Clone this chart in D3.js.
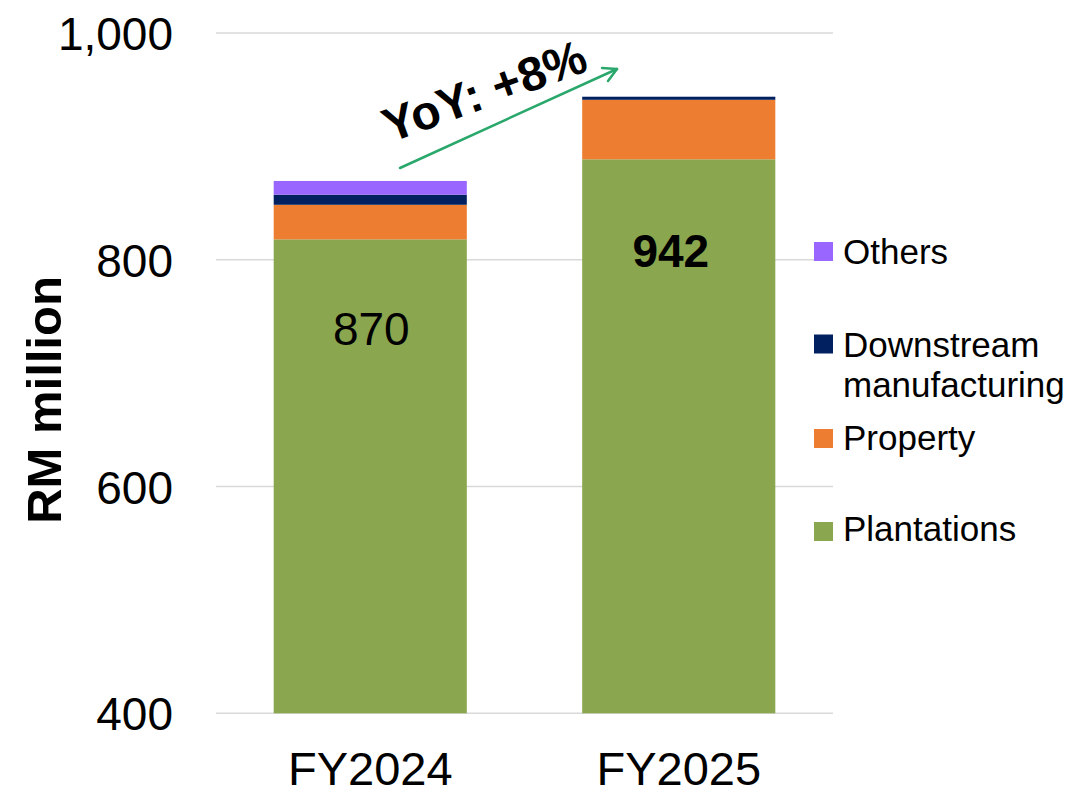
<!DOCTYPE html>
<html>
<head>
<meta charset="utf-8">
<script src="https://cdn.jsdelivr.net/npm/d3@7"></script>
<style>
  html, body { margin: 0; padding: 0; background: #fff; }
  svg { display: block; font-family: "Liberation Sans", Arial, Helvetica, sans-serif; }
</style>
</head>
<body>
<svg id="chart" width="1082" height="796"></svg>
<script>
// ---- data ----
const categories = ["FY2024", "FY2025"];
const plantations = [818, 888.6];
const property = [30.5, 52.5];
const downstream = [8.9, 2.7];
const others = [12.1, 0];
const totalLabels = ["870", "942"];
const yTicks = [400, 600, 800, 1000];
const seriesNames = ["Plantations", "Property", "Downstream manufacturing", "Others"];
const seriesColors = ["#8aa64e", "#ed7d31", "#002060", "#9966ff"];
const yoyText = "YoY: +8%";

// ---- layout ----
const svg = d3.select("#chart");
const plot = { left: 216, right: 833, top: 33, bottom: 713.3 };

const x = d3.scaleBand()
  .domain(categories)
  .range([plot.left, plot.right])
  .paddingInner(0.374)
  .paddingOuter(0.187);

const y = d3.scaleLinear()
  .domain([400, 1000])
  .range([plot.bottom, plot.top]);

// gridlines
svg.append("g")
  .selectAll("line")
  .data(yTicks)
  .join("line")
  .attr("x1", plot.left)
  .attr("x2", plot.right)
  .attr("y1", d => y(d))
  .attr("y2", d => y(d))
  .attr("stroke", "#d9d9d9")
  .attr("stroke-width", 1.5);

// y axis labels
const yAxis = d3.axisLeft(y)
  .tickValues(yTicks)
  .tickFormat(d3.format(","))
  .tickSize(0)
  .tickPadding(0);
const yg = svg.append("g")
  .attr("transform", `translate(173,0)`)
  .call(yAxis);
yg.select(".domain").remove();
yg.selectAll("text")
  .attr("font-size", 46)
  .attr("font-family", "'Liberation Sans', Arial, sans-serif")
  .attr("fill", "#000")
  .attr("dy", "0.36em");

// x axis labels
const xAxis = d3.axisBottom(x).tickSize(0).tickPadding(0);
const xg = svg.append("g")
  .call(xAxis);
xg.select(".domain").remove();
xg.selectAll("text")
  .attr("font-size", 47)
  .attr("font-family", "'Liberation Sans', Arial, sans-serif")
  .attr("fill", "#000")
  .attr("y", 785)
  .attr("dy", 0);

// y title
svg.append("text")
  .attr("transform", "translate(61,400) rotate(-90)")
  .attr("text-anchor", "middle")
  .attr("font-size", 49)
  .attr("font-weight", "bold")
  .attr("fill", "#000")
  .text("RM million");

// stacked bars
const rows = categories.map((c, i) => ({
  cat: c,
  Plantations: plantations[i],
  Property: property[i],
  "Downstream manufacturing": downstream[i],
  Others: others[i]
}));
const stacked = d3.stack().keys(seriesNames)(rows);
svg.append("g")
  .selectAll("g")
  .data(stacked)
  .join("g")
  .attr("fill", (d, i) => seriesColors[i])
  .selectAll("rect")
  .data(d => d)
  .join("rect")
  .attr("x", d => x(d.data.cat))
  .attr("width", x.bandwidth())
  .attr("y", d => y(d[1]))
  .attr("height", d => Math.max(0, y(Math.max(d[0], 400)) - y(d[1])));

// total labels
svg.append("text")
  .attr("x", x(categories[0]) + x.bandwidth() / 2 + 1)
  .attr("y", 345)
  .attr("text-anchor", "middle")
  .attr("font-size", 46)
  .attr("fill", "#000")
  .text(totalLabels[0]);
svg.append("text")
  .attr("x", x(categories[1]) + x.bandwidth() / 2 - 8)
  .attr("y", 266.5)
  .attr("text-anchor", "middle")
  .attr("font-size", 46)
  .attr("font-weight", "bold")
  .attr("fill", "#000")
  .text(totalLabels[1]);

// YoY arrow
const arrowColor = "#2aa86c";
const ax1 = 400, ay1 = 168, ax2 = 617, ay2 = 69;
svg.append("line")
  .attr("x1", ax1).attr("y1", ay1)
  .attr("x2", ax2).attr("y2", ay2)
  .attr("stroke", arrowColor)
  .attr("stroke-width", 2.5)
  .attr("stroke-linecap", "round");
const ang = Math.atan2(ay2 - ay1, ax2 - ax1);
const headLen = 15, headAng = 0.5;
const headPath = d3.path();
headPath.moveTo(ax2 - headLen * Math.cos(ang - headAng), ay2 - headLen * Math.sin(ang - headAng));
headPath.lineTo(ax2, ay2);
headPath.lineTo(ax2 - headLen * Math.cos(ang + headAng), ay2 - headLen * Math.sin(ang + headAng));
svg.append("path")
  .attr("d", headPath.toString())
  .attr("fill", "none")
  .attr("stroke", arrowColor)
  .attr("stroke-width", 2.5)
  .attr("stroke-linecap", "round")
  .attr("stroke-linejoin", "round");

svg.append("text")
  .attr("transform", "translate(390,143) rotate(-20)")
  .attr("font-size", 48)
  .attr("font-weight", "bold")
  .attr("fill", "#000")
  .text(yoyText);

// legend
const legendItems = [
  { lines: ["Others"], color: seriesColors[3], cy: 251.5, base: 264 },
  { lines: ["Downstream", "manufacturing"], color: seriesColors[2], cy: 344, base: 357 },
  { lines: ["Property"], color: seriesColors[1], cy: 438.5, base: 450 },
  { lines: ["Plantations"], color: seriesColors[0], cy: 531.5, base: 541 }
];
const lg = svg.append("g");
legendItems.forEach(it => {
  lg.append("rect")
    .attr("x", 814)
    .attr("y", it.cy - 9.5)
    .attr("width", 19)
    .attr("height", 19)
    .attr("fill", it.color);
  const t = lg.append("text")
    .attr("x", 843)
    .attr("y", it.base)
    .attr("font-size", 35)
    .attr("fill", "#000");
  it.lines.forEach((l, k) => {
    t.append("tspan").attr("x", 843).attr("dy", k === 0 ? 0 : 40).text(l);
  });
});
</script>
</body>
</html>
